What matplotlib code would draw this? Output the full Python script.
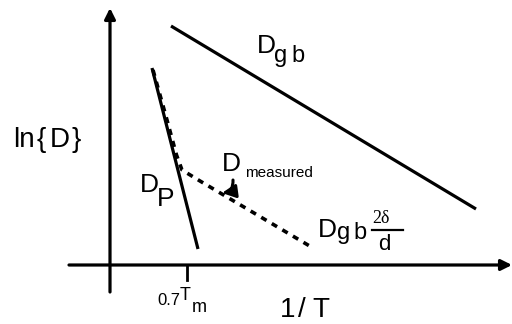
import matplotlib
matplotlib.use("Agg")
import matplotlib.pyplot as plt

plt.rcParams['font.family'] = ['Liberation Sans', 'DejaVu Sans']

# schematic Arrhenius plot, arbitrary units (origin at the axes crossing)
invT_gb = [0.61, 3.66]
lnD_gb = [2.39, 0.56]

invT_p = [0.42, 0.88]
lnD_p = [1.97, 0.16]

invT_meas = [0.43, 0.57, 0.665, 0.72, 0.90, 2.03]
lnD_meas = [1.95, 1.45, 1.10, 0.95, 0.84, 0.17]

tick_07Tm = 0.77

fig = plt.figure(figsize=[5.12, 3.24], dpi=100)
ax = fig.add_axes([0, 0, 1, 1])
ax.set_xlim(-1.10, 4.02)
ax.set_ylim(-0.59, 2.65)
ax.axis('off')

# axes with arrows
ax.annotate('', xy=(4.02, 0), xytext=(-0.41, 0),
            arrowprops=dict(arrowstyle='-|>', lw=2.3, color='k',
                            mutation_scale=16, shrinkA=0, shrinkB=0))
ax.annotate('', xy=(0, 2.57), xytext=(0, -0.27),
            arrowprops=dict(arrowstyle='-|>', lw=2.3, color='k',
                            mutation_scale=16, shrinkA=0, shrinkB=0))
ax.plot([tick_07Tm, tick_07Tm], [0, -0.15], color='k', lw=2)

# lines
ax.plot(invT_gb, lnD_gb, color='k', lw=2.3, solid_capstyle='butt')
ax.plot(invT_p, lnD_p, color='k', lw=2.3, solid_capstyle='butt')
ax.plot(invT_meas, lnD_meas, color='k', lw=2.6,
        linestyle=(0, (1.7, 1.7)), dash_capstyle='butt')

# labels (letters placed one by one to get the wide spacing)
ax.text(-0.97, 1.18, 'ln', fontsize=20, va='baseline')
ax.text(-0.73, 1.18, '{', fontsize=20, va='baseline')
ax.text(-0.60, 1.18, 'D', fontsize=20, va='baseline')
ax.text(-0.39, 1.18, '}', fontsize=20, va='baseline')

ax.text(1.47, 2.12, 'D', fontsize=19, va='baseline')
ax.text(1.64, 2.03, 'g', fontsize=17, va='baseline')
ax.text(1.81, 2.03, 'b', fontsize=17, va='baseline')

ax.text(0.30, 0.73, 'D', fontsize=19, va='baseline')
ax.text(0.47, 0.59, 'P', fontsize=19, va='baseline')

ax.text(1.12, 0.94, 'D', fontsize=19, va='baseline')
ax.text(1.35, 0.88, 'measured', fontsize=11, va='baseline')
ax.annotate('', xy=(1.12, 0.72), xytext=(1.23, 0.85),
            arrowprops=dict(arrowstyle='-|>', lw=2.2, color='k',
                            mutation_scale=20, shrinkA=0, shrinkB=0,
                            connectionstyle='arc3,rad=-0.45'))

ax.text(2.08, 0.28, 'D', fontsize=19, va='baseline')
ax.text(2.27, 0.26, 'g', fontsize=17, va='baseline')
ax.text(2.43, 0.26, 'b', fontsize=17, va='baseline')
ax.text(2.71, 0.42, '2δ', fontsize=13, family='Liberation Serif',
        ha='center', va='baseline')
ax.plot([2.62, 2.93], [0.35, 0.35], color='k', lw=1.6)
ax.text(2.74, 0.15, 'd', fontsize=16, ha='center', va='baseline')

ax.text(0.47, -0.40, '0.7', fontsize=12, va='baseline')
ax.text(0.70, -0.35, 'T', fontsize=13, va='baseline')
ax.text(0.82, -0.47, 'm', fontsize=13, va='baseline')

ax.text(1.70, -0.52, '1', fontsize=20, va='baseline')
ax.text(1.88, -0.52, '/', fontsize=20, va='baseline')
ax.text(2.02, -0.52, 'T', fontsize=20, va='baseline')

fig.savefig('out.png', dpi=100)
